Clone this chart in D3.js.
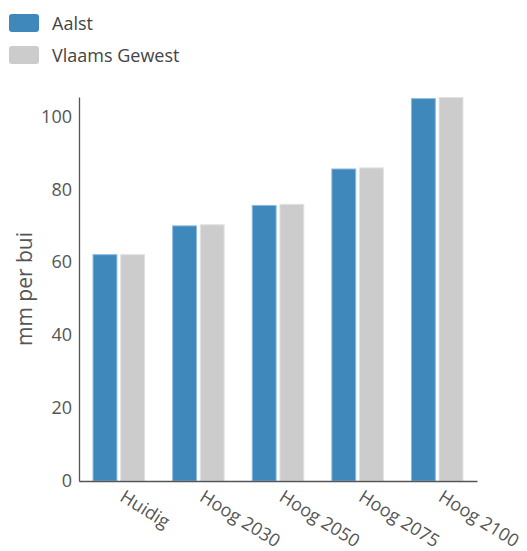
<!DOCTYPE html>
<html><head><meta charset="utf-8">
<script src="https://cdn.jsdelivr.net/npm/d3@7/dist/d3.min.js"></script>
<style>
html,body{margin:0;padding:0;background:#fff;}
svg{display:block;font-family:"Open Sans",sans-serif;}
</style></head>
<body>
<script>
const categories = ["Huidig","Hoog 2030","Hoog 2050","Hoog 2075","Hoog 2100"];
const seriesNames = ["Aalst","Vlaams Gewest"];
const aalst = [62.2, 70.1, 75.7, 85.7, 105.0];
const vlaams = [62.2, 70.4, 76.0, 86.0, 105.3];
const yTicks = [0,20,40,60,80,100];
const colors = ["#3f88bc","#cccccc"];
const strokes = ["#8dbbe0","#e2e2e2"];

(function(){
const W=527,H=551;
const svg=d3.select("body").append("svg").attr("width",W).attr("height",H);
const mLeft=79,mRight=477,mTop=97,mBottom=481;

const x0=d3.scaleBand().domain(categories).range([mLeft,mRight]).paddingInner(0.34).paddingOuter(0.17);
const x1=d3.scaleBand().domain(seriesNames).range([0,x0.bandwidth()]).paddingInner(0.1);
const y=d3.scaleLinear().domain([0,d3.max(vlaams)]).range([mBottom,mTop]);

const data=categories.map((c,i)=>({c,vals:[aalst[i],vlaams[i]]}));

const g=svg.append("g");
data.forEach(d=>{
  d.vals.forEach((v,j)=>{
    g.append("rect")
      .attr("x",x0(d.c)+x1(seriesNames[j])+0.5)
      .attr("y",y(v)+0.5)
      .attr("width",x1.bandwidth()-1)
      .attr("height",y(0)-y(v)-0.5)
      .attr("fill",colors[j])
      .attr("stroke",strokes[j]).attr("stroke-width",1);
  });
});

const ya=svg.append("g").attr("transform",`translate(${mLeft},0)`)
  .call(d3.axisLeft(y).tickValues(yTicks).tickSize(0).tickPadding(7));
ya.select(".domain").attr("stroke","#555").attr("stroke-width",1.3);
ya.selectAll("text").attr("font-size",18).attr("fill","#555").attr("font-family","Open Sans");

const xa=svg.append("g").attr("transform",`translate(0,${mBottom})`)
  .call(d3.axisBottom(x0).tickSize(0).tickPadding(0));
xa.select(".domain").attr("stroke","#555").attr("stroke-width",1.3);
xa.selectAll("text").attr("font-size",18).attr("fill","#555").attr("font-family","Open Sans")
  .attr("text-anchor","start").attr("dy",null).attr("y",0)
  .attr("transform","translate(0,19) rotate(32)");

svg.append("text").attr("transform",`translate(32,${(mTop+mBottom)/2}) rotate(-90)`)
  .attr("text-anchor","middle").attr("font-size",21).attr("fill","#555").text("mm per bui");

const lg=svg.append("g");
seriesNames.forEach((n,i)=>{
  lg.append("rect").attr("x",9).attr("y",14+i*32).attr("width",30).attr("height",18).attr("rx",3)
    .attr("fill",colors[i]);
  lg.append("text").attr("x",52).attr("y",30+i*32).attr("font-size",18).attr("fill","#444").text(n);
});
})();
</script>
</body></html>
